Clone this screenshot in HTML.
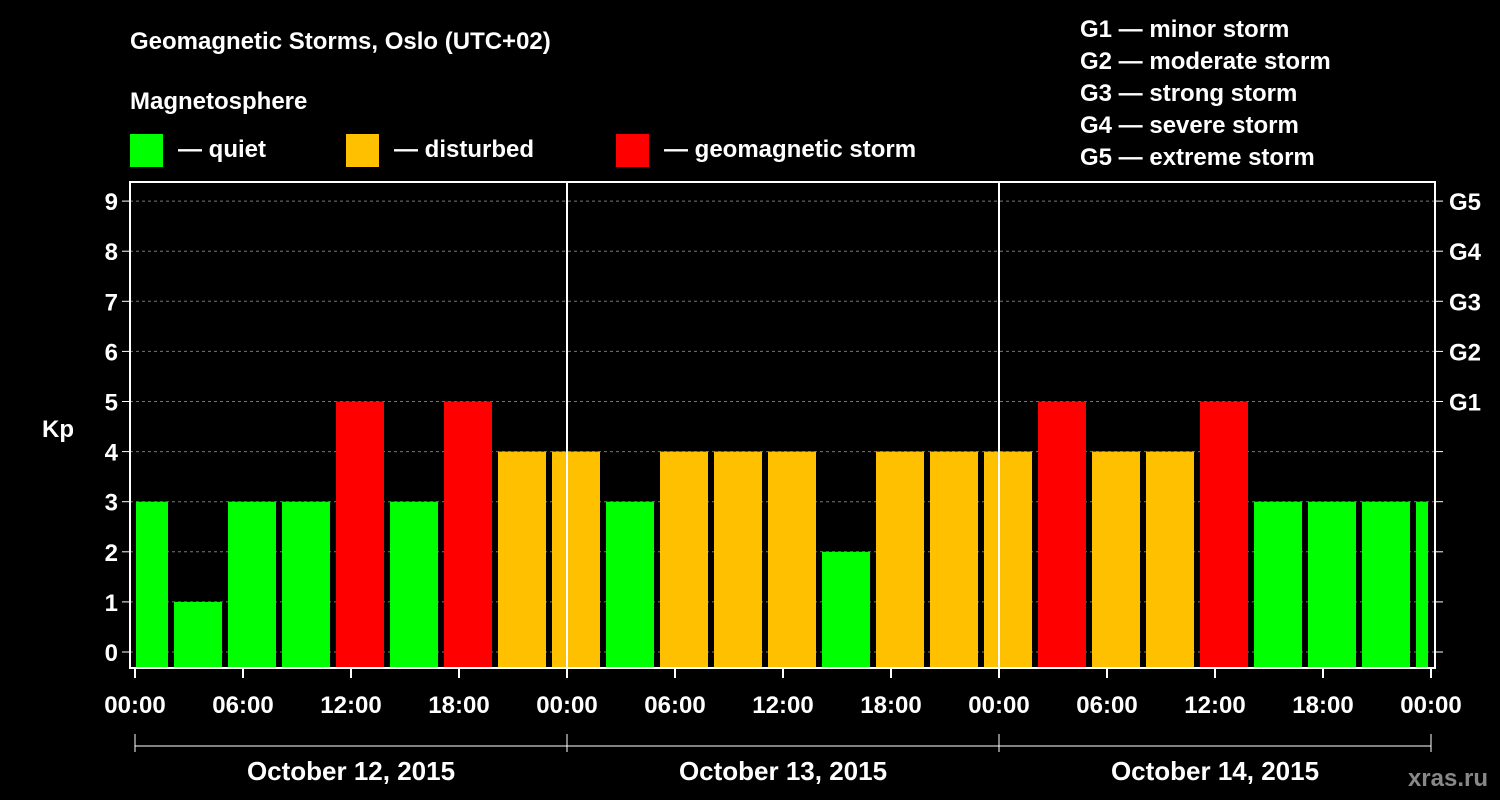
<!DOCTYPE html>
<html><head><meta charset="utf-8"><style>
body{margin:0;background:#000;}
svg{display:block;font-family:"Liberation Sans",sans-serif;font-weight:bold;}
</style></head><body>
<svg id="c" width="1500" height="800">
<rect width="1500" height="800" fill="#000"/>
<text x="130" y="49" fill="#fff" font-size="24">Geomagnetic Storms, Oslo (UTC+02)</text>
<text x="130" y="109" fill="#fff" font-size="24">Magnetosphere</text>
<g><rect x="130" y="134" width="33" height="33" fill="#00ff00"/><text x="178" y="157" fill="#fff" font-size="24">— quiet</text></g>
<g><rect x="346" y="134" width="33" height="33" fill="#ffc000"/><text x="394" y="157" fill="#fff" font-size="24">— disturbed</text></g>
<g><rect x="616" y="134" width="33" height="33" fill="#ff0000"/><text x="664" y="157" fill="#fff" font-size="24">— geomagnetic storm</text></g>
<g fill="#fff" font-size="24">
<text x="1080" y="37">G1 — minor storm</text><text x="1080" y="69">G2 — moderate storm</text><text x="1080" y="101">G3 — strong storm</text><text x="1080" y="133">G4 — severe storm</text><text x="1080" y="165">G5 — extreme storm</text></g>
<text x="42" y="437" fill="#fff" font-size="24">Kp</text>
<text x="1488" y="786" fill="#888" font-size="24" text-anchor="end">xras.ru</text>
<g id="plot"></g>
</svg>
<script>
const kpValues=[3,1,3,3,5,3,5,4,4,3,4,4,4,2,4,4,4,5,4,4,5,3,3,3,3];
const timeLabels=["00:00","06:00","12:00","18:00","00:00","06:00","12:00","18:00","00:00","06:00","12:00","18:00","00:00"];
const dayLabels=["October 12, 2015","October 13, 2015","October 14, 2015"];
const gLabels=["G1","G2","G3","G4","G5"];
const NS="http://www.w3.org/2000/svg";
const g=document.getElementById('plot');
const L=130,R=1435,T=182,B=668,X0=135,PXH=18;
const xs=h=>X0+h*PXH, ys=k=>652-k*50.1;
function el(t,a,p){const e=document.createElementNS(NS,t);for(const k in a)e.setAttribute(k,a[k]);(p||g).appendChild(e);return e;}
// grid
for(let k=0;k<=9;k++){
 const gl=el('line',{x1:L,x2:R,y1:ys(k),y2:ys(k),stroke:'#777','stroke-dasharray':'3,3','stroke-width':1});
 
 
 el('line',{x1:L-8,x2:L,y1:ys(k),y2:ys(k),stroke:'#fff','stroke-width':1});
 el('line',{x1:R,x2:R+8,y1:ys(k),y2:ys(k),stroke:'#fff','stroke-width':1});
 const t=el('text',{x:L-12,y:ys(k)+9,fill:'#fff','font-size':24,'text-anchor':'end'});t.textContent=k;
 
 
}
gLabels.forEach((s,i)=>{const t=el('text',{x:R+14,y:ys(5+i)+9,fill:'#fff','font-size':24});t.textContent=s;
 
 });
// bars
kpValues.forEach((v,i)=>{
 let a=xs(-1+3*i)+3,b=xs(2+3*i)-3;a=Math.max(a,X0+1);b=Math.min(b,xs(72)-3);
 const c=v>=5?'#ff0000':v>=4?'#ffc000':'#00ff00';
 const y=ys(v);
 const r=el('rect',{x:a,y:y,width:b-a,height:B-y,fill:c});
 
 
});
// day separators
[24,48].forEach(h=>el('line',{x1:xs(h),x2:xs(h),y1:T,y2:B,stroke:'#fff','stroke-width':2}));
const fr=el('rect',{x:L,y:T,width:R-L,height:B-T,fill:'none',stroke:'#fff','stroke-width':2});


timeLabels.forEach((s,i)=>{const x=xs(i*6);
 el('line',{x1:x,x2:x,y1:B,y2:B+10,stroke:'#fff','stroke-width':2});
 const t=el('text',{x:x,y:713,fill:'#fff','font-size':24,'text-anchor':'middle'});t.textContent=s;
 
 });
el('line',{x1:xs(0),x2:xs(72),y1:746,y2:746,stroke:'#fff','stroke-width':1});
[0,24,48,72].forEach(h=>el('line',{x1:xs(h),x2:xs(h),y1:734,y2:752,stroke:'#fff','stroke-width':1}));
dayLabels.forEach((s,i)=>{const t=el('text',{x:xs(12+24*i),y:780,fill:'#fff','font-size':26,'text-anchor':'middle'});t.textContent=s;
 
 });
</script>
</body></html>
